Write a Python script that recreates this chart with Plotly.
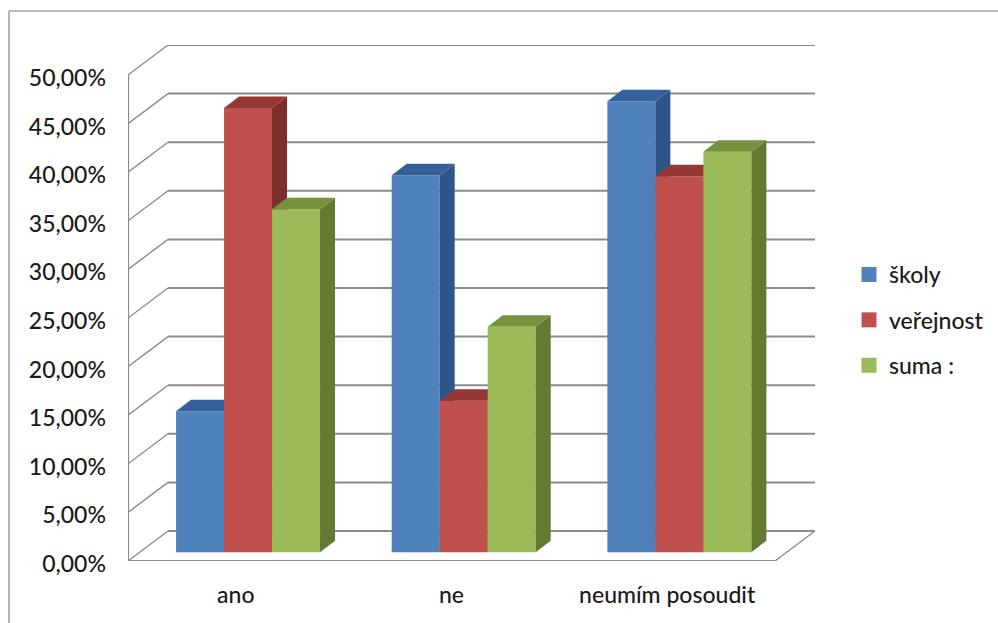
import plotly.graph_objects as go

# Survey results by answer, percent
CATEGORIES = ["ano", "ne", "neumím posoudit"]
SERIES_NAMES = ["školy", "veřejnost", "suma :"]
SKOLY = [14.5, 38.8, 46.4]
VEREJNOST = [45.7, 15.6, 38.7]
SUMA = [35.3, 23.2, 41.2]
Y_TICKS = [0, 5, 10, 15, 20, 25, 30, 35, 40, 45, 50]

SERIES_VALUES = [SKOLY, VEREJNOST, SUMA]
FRONT_COLORS = ["#4F81BD", "#C0504D", "#9BBB59"]
TOP_COLORS = ["#36609A", "#953735", "#76923C"]
SIDE_COLORS = ["#2E5587", "#7D2F2C", "#647A33"]

# Canvas and plot box, in pixels
WIDTH, HEIGHT = 998, 623
LEFT, RIGHT, TOP, BOTTOM = 128, 815, 45, 561

# Pseudo-3D projection, expressed in axis units
PX_PER_CATEGORY = 215.67
PX_PER_PERCENT = 9.72
WALL_DX = 40 / PX_PER_CATEGORY
WALL_DY = 30 / PX_PER_PERCENT
BAR_DX = 15 / PX_PER_CATEGORY
BAR_DY = 11.5 / PX_PER_PERCENT
INSET_X = 12.2 / PX_PER_CATEGORY
INSET_Y = 8.7 / PX_PER_PERCENT
BAR_WIDTH = 48 / PX_PER_CATEGORY

X_MIN = -0.5
X_MAX = len(CATEGORIES) - 0.5
GRID_COLOR = "#8C8C8C"
FRAME_COLOR = "#A3A3A3"
TEXT_COLOR = "#1A1A1A"
FONT = "Lato"
LABEL_FONT = dict(size=23, family=FONT, color=TEXT_COLOR, weight=500)


def line_shape(x0, y0, x1, y1, width=2, color=GRID_COLOR):
    return dict(type="line", xref="x", yref="y", x0=x0, y0=y0, x1=x1, y1=y1,
                layer="below", line=dict(color=color, width=width))


def paper_x(px):
    return (px - LEFT) / (RIGHT - LEFT)


def paper_y(px):
    return (BOTTOM - px) / (BOTTOM - TOP)


shapes = []
for tick in Y_TICKS:
    # Back wall line and the slanted line on the side wall
    shapes.append(line_shape(X_MIN + WALL_DX, tick + WALL_DY, X_MAX + WALL_DX, tick + WALL_DY))
    shapes.append(line_shape(X_MIN, tick, X_MIN + WALL_DX, tick + WALL_DY, width=1.4))
# Front axis lines and the right edge of the floor
shapes.append(line_shape(X_MIN, 0, X_MIN, Y_TICKS[-1], width=2.2))
shapes.append(line_shape(X_MIN, 0, X_MAX, 0, width=2.2))
shapes.append(line_shape(X_MAX, 0, X_MAX + WALL_DX, WALL_DY, width=1.4))
# Chart frame
for x0, y0, x1, y1 in [(9, 11, WIDTH, 11), (9, 11, 9, HEIGHT)]:
    shapes.append(dict(type="line", xref="paper", yref="paper",
                       x0=paper_x(x0), y0=paper_y(y0), x1=paper_x(x1), y1=paper_y(y1),
                       line=dict(color=FRAME_COLOR, width=1.6)))

fig = go.Figure()
for s, values in enumerate(SERIES_VALUES):
    axis_x = "x" if s == 0 else f"x{s + 1}"
    axis_y = "y" if s == 0 else f"y{s + 1}"
    lefts = [i + INSET_X + (s - 1.5) * BAR_WIDTH for i in range(len(CATEGORIES))]
    centers = [x + BAR_WIDTH / 2 for x in lefts]

    fig.add_trace(go.Bar(
        x=centers, y=values, base=INSET_Y, width=BAR_WIDTH, name=SERIES_NAMES[s],
        marker=dict(color=FRONT_COLORS[s], line=dict(width=0)),
        showlegend=False, xaxis=axis_x, yaxis=axis_y,
    ))
    # Legend entry with a larger square key than a bar trace provides
    fig.add_trace(go.Scatter(
        x=[None], y=[None], mode="markers", name=SERIES_NAMES[s],
        marker=dict(symbol="square", size=15, color=FRONT_COLORS[s]),
        legendgroup=SERIES_NAMES[s], xaxis=axis_x, yaxis=axis_y,
    ))
    for x, value in zip(lefts, values):
        x1 = x + BAR_WIDTH
        top = value + INSET_Y
        # Right side face
        fig.add_trace(go.Scatter(
            x=[x1, x1 + BAR_DX, x1 + BAR_DX, x1, x1],
            y=[INSET_Y, INSET_Y + BAR_DY, top + BAR_DY, top, INSET_Y],
            mode="lines", fill="toself", fillcolor=SIDE_COLORS[s], line=dict(width=0),
            showlegend=False, hoverinfo="skip", xaxis=axis_x, yaxis=axis_y,
        ))
        # Top face
        fig.add_trace(go.Scatter(
            x=[x, x1, x1 + BAR_DX, x + BAR_DX, x],
            y=[top, top, top + BAR_DY, top + BAR_DY, top],
            mode="lines", fill="toself", fillcolor=TOP_COLORS[s], line=dict(width=0),
            showlegend=False, hoverinfo="skip", xaxis=axis_x, yaxis=axis_y,
        ))

x_range = [X_MIN, X_MAX + WALL_DX]
y_range = [0, Y_TICKS[-1] + WALL_DY]
overlay = dict(visible=False, fixedrange=True)

fig.update_layout(
    width=WIDTH, height=HEIGHT, autosize=False,
    margin=dict(l=LEFT, r=WIDTH - RIGHT, t=TOP, b=HEIGHT - BOTTOM, pad=0, autoexpand=False),
    paper_bgcolor="white", plot_bgcolor="white",
    separators=",.",
    shapes=shapes,
    font=dict(family=FONT, color=TEXT_COLOR),
    legend=dict(
        x=paper_x(849), y=paper_y(253), xanchor="left", yanchor="top",
        font=LABEL_FONT, tracegroupgap=12.5,
        itemclick=False, itemdoubleclick=False, bgcolor="rgba(0,0,0,0)",
    ),
    xaxis=dict(
        range=x_range, tickmode="array", tickvals=list(range(len(CATEGORIES))),
        ticktext=CATEGORIES, showgrid=False, zeroline=False, showline=False,
        ticklen=0, ticklabelstandoff=18, tickfont=LABEL_FONT,
        fixedrange=True,
    ),
    yaxis=dict(
        range=y_range, tickmode="linear", tick0=0, dtick=5, tickformat=".2f", ticksuffix="%",
        showgrid=False, zeroline=False, showline=False, ticklen=0, ticklabelstandoff=21,
        ticklabelshift=3, tickfont=LABEL_FONT,
        fixedrange=True,
    ),
    xaxis2=dict(overlaying="x", range=x_range, **overlay),
    yaxis2=dict(overlaying="y", range=y_range, **overlay),
    xaxis3=dict(overlaying="x", range=x_range, **overlay),
    yaxis3=dict(overlaying="y", range=y_range, **overlay),
)

fig.write_html("out.html", config=dict(displayModeBar=False))
